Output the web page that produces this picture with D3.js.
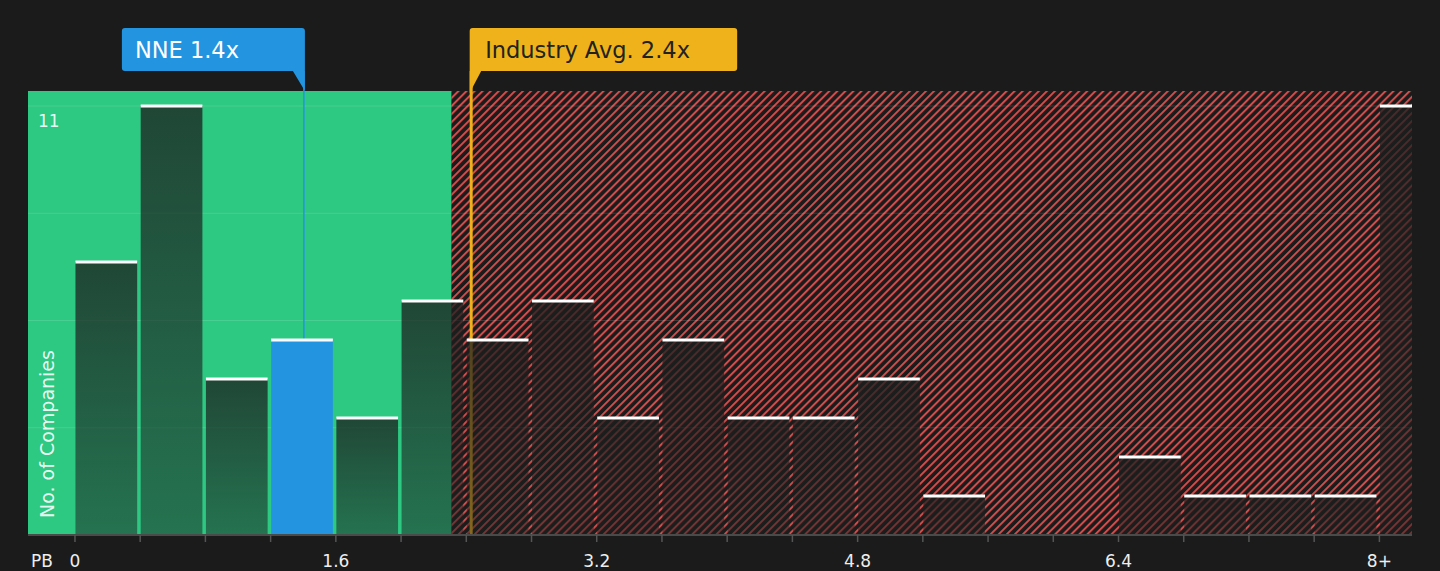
<!DOCTYPE html>
<html>
<head>
<meta charset="utf-8">
<script src="https://cdn.jsdelivr.net/npm/d3@7"></script>
<style>
  html, body { margin: 0; padding: 0; background: #1b1b1b; }
  svg { display: block; font-family: "DejaVu Sans", sans-serif; }
</style>
</head>
<body>
<svg width="1440" height="571"></svg>
<script>
// --- Data ---
const binStarts = [0, 0.4, 0.8, 1.2, 1.6, 2.0, 2.4, 2.8, 3.2, 3.6, 4.0, 4.4, 4.8, 5.2, 5.6, 6.0, 6.4, 6.8, 7.2, 7.6, 8.0];
const counts    = [7, 11, 4, 5, 3, 6, 5, 6, 3, 5, 3, 3, 4, 1, 0, 0, 2, 1, 1, 1, 11];
const tickValues = [0, 1.6, 3.2, 4.8, 6.4, 8.0];
const tickLabels = ["0", "1.6", "3.2", "4.8", "6.4", "8+"];
const gridValues = [2.75, 5.5, 8.25, 11];
const companyPB = 1.404;    // NNE
const industryPB = 2.43;    // Industry average
const fairLimit = 2.31;     // end of green zone
const binWidth = 0.4;

const svg = d3.select("svg");
const margin = { top: 91, right: 28, bottom: 36, left: 28 };
const width = +svg.attr("width");
const height = +svg.attr("height");

// --- Scales ---
const x = d3.scaleLinear()
  .domain([-0.288, 8.2])
  .range([margin.left, width - margin.right]);

const y = d3.scaleLinear()
  .domain([0, 11.385])
  .range([height - margin.bottom, margin.top]);

const y0 = y(0);

// --- Defs: hatch + bar gradient ---
const defs = svg.append("defs");
const hatch = defs.append("pattern")
  .attr("id", "hatch")
  .attr("patternUnits", "userSpaceOnUse")
  .attr("width", 5.7)
  .attr("height", 5.7)
  .attr("patternTransform", "rotate(45)");
hatch.append("rect").attr("width", 5.7).attr("height", 5.7).attr("fill", "#1b1b1b");
hatch.append("line")
  .attr("x1", 1).attr("x2", 1).attr("y1", 0).attr("y2", 5.7)
  .attr("stroke", "#d24c4c").attr("stroke-width", 2);

const grad = defs.append("linearGradient")
  .attr("id", "barGrad")
  .attr("x1", 0).attr("x2", 0).attr("y1", 0).attr("y2", 1);
grad.append("stop").attr("offset", "0%").attr("stop-color", "#1c1e1e").attr("stop-opacity", 0.76);
grad.append("stop").attr("offset", "100%").attr("stop-color", "#1c1e1e").attr("stop-opacity", 0.5);

// --- Zones ---
svg.append("rect")
  .attr("x", x.range()[0])
  .attr("y", margin.top)
  .attr("width", x(fairLimit) - x.range()[0])
  .attr("height", y0 - margin.top)
  .attr("fill", "#2dc882");

svg.append("rect")
  .attr("x", x(fairLimit))
  .attr("y", margin.top)
  .attr("width", x.range()[1] - x(fairLimit))
  .attr("height", y0 - margin.top)
  .attr("fill", "url(#hatch)");

// --- Gridlines ---
svg.append("g")
  .selectAll("line")
  .data(gridValues)
  .join("line")
  .attr("x1", x.range()[0])
  .attr("x2", x.range()[1])
  .attr("y1", d => y(d))
  .attr("y2", d => y(d))
  .attr("stroke", "#ffffff")
  .attr("stroke-opacity", 0.13)
  .attr("stroke-width", 1);

// --- Marker lines (under bars) ---
svg.append("line")
  .attr("x1", x(companyPB)).attr("x2", x(companyPB))
  .attr("y1", 71).attr("y2", y0)
  .attr("stroke", "#2394e0").attr("stroke-width", 1.5);

svg.append("line")
  .attr("x1", x(industryPB)).attr("x2", x(industryPB))
  .attr("y1", 71).attr("y2", y0)
  .attr("stroke", "#efb21b").attr("stroke-width", 3);

// --- Bars ---
const bars = binStarts.map((s, i) => ({
  start: s,
  end: i === binStarts.length - 1 ? x.domain()[1] : s + binWidth,
  count: counts[i],
  last: i === binStarts.length - 1
}));

const isCompany = d => companyPB >= d.start && companyPB < d.end;

svg.append("g")
  .selectAll("rect")
  .data(bars.filter(d => d.count > 0))
  .join("rect")
  .attr("x", d => x(d.start) + 0.5)
  .attr("width", d => x(d.end) - x(d.start) - (d.last ? 0.5 : 3.5))
  .attr("y", d => y(d.count))
  .attr("height", d => y0 - y(d.count))
  .attr("fill", d => isCompany(d) ? "#2394e0" : "url(#barGrad)");

// bar caps
svg.append("g")
  .selectAll("rect")
  .data(bars.filter(d => d.count > 0))
  .join("rect")
  .attr("x", d => x(d.start) + 0.5)
  .attr("width", d => x(d.end) - x(d.start) - (d.last ? 0.5 : 3.5))
  .attr("y", d => y(d.count) - 1.5)
  .attr("height", 3)
  .attr("fill", "#ffffff");

// --- X axis ---
const axisTicks = binStarts;
svg.append("line")
  .attr("x1", x.range()[0]).attr("x2", x.range()[1])
  .attr("y1", y0).attr("y2", y0)
  .attr("stroke", "#4a4a4a").attr("stroke-width", 2);

svg.append("g")
  .selectAll("line")
  .data(axisTicks)
  .join("line")
  .attr("x1", d => x(d)).attr("x2", d => x(d))
  .attr("y1", y0).attr("y2", y0 + 7)
  .attr("stroke", "#555").attr("stroke-width", 1.5);

svg.append("g")
  .selectAll("text")
  .data(tickValues)
  .join("text")
  .attr("x", d => x(d))
  .attr("y", 567)
  .attr("text-anchor", "middle")
  .attr("fill", "#eeeeee")
  .style("font-size", "17px")
  .text((d, i) => tickLabels[i]);

svg.append("text")
  .attr("x", 31)
  .attr("y", 567)
  .attr("fill", "#eeeeee")
  .style("font-size", "17px")
  .text("PB");

// --- Y labels ---
svg.append("text")
  .attr("x", 38)
  .attr("y", y(11) + 21)
  .attr("fill", "#ffffff")
  .attr("fill-opacity", 0.9)
  .style("font-size", "17px")
  .text("11");

svg.append("text")
  .attr("transform", `translate(54,${y0 - 17}) rotate(-90)`)
  .attr("fill", "#ffffff")
  .attr("fill-opacity", 0.9)
  .style("font-size", "19px")
  .text("No. of Companies");

// --- Callouts ---
const cx = x(companyPB);
svg.append("path")
  .attr("d", `M${cx - 182},31 q0,-3 3,-3 L${cx - 2},28 q3,0 3,3 L${cx + 1},${margin.top} L${cx - 11},71 L${cx - 179},71 q-3,0 -3,-3 Z`)
  .attr("fill", "#2394e0");
svg.append("text")
  .attr("x", cx - 169)
  .attr("y", 58)
  .attr("fill", "#ffffff")
  .style("font-size", "22.5px")
  .text("NNE 1.4x");

const ix = x(industryPB);
svg.append("path")
  .attr("d", `M${ix - 1.5},31 q0,-3 3,-3 L${ix + 263},28 q3,0 3,3 L${ix + 266},68 q0,3 -3,3 L${ix + 10},71 L${ix - 1.5},${margin.top + 2} Z`)
  .attr("fill", "#efb21b");
svg.append("text")
  .attr("x", ix + 14)
  .attr("y", 58)
  .attr("fill", "#222222")
  .style("font-size", "22.5px")
  .text("Industry Avg. 2.4x");
</script>
</body>
</html>
